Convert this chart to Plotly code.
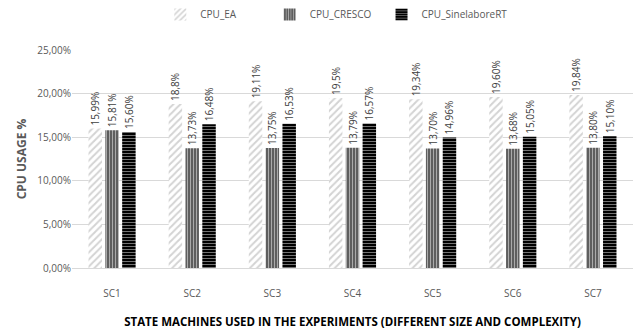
import plotly.graph_objects as go

categories = ["SC1", "SC2", "SC3", "SC4", "SC5", "SC6", "SC7"]
cpu_ea = [15.99, 18.8, 19.11, 19.5, 19.34, 19.60, 19.84]
cpu_cresco = [15.81, 13.73, 13.75, 13.79, 13.70, 13.68, 13.80]
cpu_sinelabore = [15.60, 16.48, 16.53, 16.57, 14.96, 15.05, 15.10]
ea_labels = ["15,99%", "18,8%", "19,11%", "19,5%", "19,34%", "19,60%", "19,84%"]
cresco_labels = ["15,81%", "13,73%", "13,75%", "13,79%", "13,70%", "13,68%", "13,80%"]
sinelabore_labels = ["15,60%", "16,48%", "16,53%", "16,57%", "14,96%", "15,05%", "15,10%"]

# legend names padded with no-break spaces to widen the entry spacing
series = [
    ("CPU_EA" + "\u00a0" * 11, cpu_ea, ea_labels,
     dict(shape="/", fgcolor="#a8a8a8", bgcolor="white", size=5, solidity=0.4)),
    ("CPU_CRESCO" + "\u00a0" * 2, cpu_cresco, cresco_labels,
     dict(shape="|", fgcolor="white", bgcolor="#555555", size=3, solidity=0.4)),
    ("CPU_SinelaboreRT", cpu_sinelabore, sinelabore_labels,
     dict(shape="-", fgcolor="white", bgcolor="#000000", size=3, solidity=0.3)),
]

fig = go.Figure()
for name, vals, labels, pat in series:
    fig.add_trace(go.Bar(
        name=name,
        x=categories,
        y=[v / 100 for v in vals],
        text=labels,
        textposition="outside",
        textangle=-90,
        constraintext="none",
        textfont=dict(size=10, color="#404040"),
        cliponaxis=False,
        marker=dict(color=pat["bgcolor"], line=dict(width=0), pattern=pat),
    ))

fig.update_layout(
    width=639, height=333,
    margin=dict(l=72, r=6, t=50, b=65, autoexpand=False),
    paper_bgcolor="white", plot_bgcolor="white",
    font=dict(family="Open Sans, Liberation Sans, sans-serif", color="#595959"),
    separators=",.",
    barmode="group",
    bargap=0.37,
    bargroupgap=0.2,
    showlegend=True,
    legend=dict(orientation="h", x=0.472, xanchor="center", yref="container", y=1.0, yanchor="top",
                font=dict(size=10, color="#595959"), itemwidth=30, traceorder="normal"),
    yaxis=dict(range=[0, 0.25], dtick=0.05, tickformat=".2%",
               gridcolor="#d9d9d9", gridwidth=1, zeroline=False,
               showline=False, ticks="", tickfont=dict(size=10, color="#595959"),
               title=dict(text="<b>CPU USAGE %</b>", font=dict(size=12, color="#595959"), standoff=8)),
    xaxis=dict(showline=True, linecolor="#d9d9d9", ticks="outside", ticklen=16, tickcolor="rgba(0,0,0,0)",
               tickfont=dict(size=10, color="#595959"),
               title=dict(text="<b>STATE MACHINES USED IN THE EXPERIMENTS (DIFFERENT SIZE AND COMPLEXITY)</b>",
                          font=dict(size=11.5, color="#000000"), standoff=18)),
)

fig.write_html("out.html")
